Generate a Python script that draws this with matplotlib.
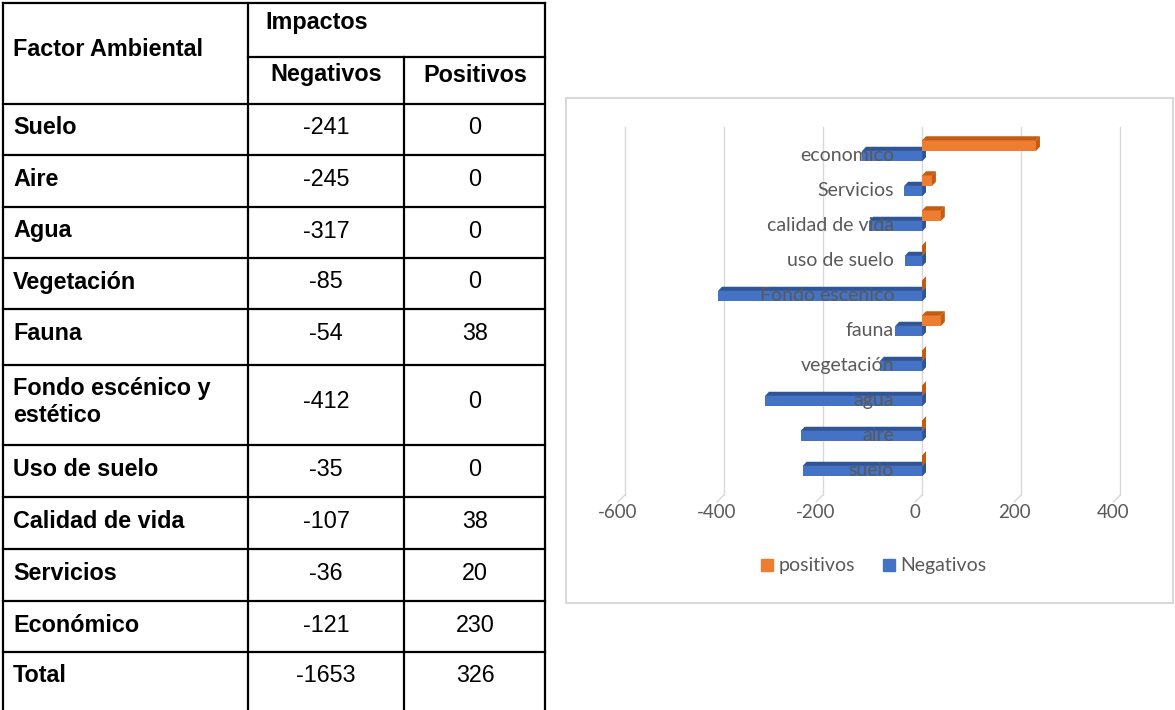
import matplotlib
matplotlib.use("Agg")
import matplotlib.pyplot as plt
from matplotlib.patches import Rectangle, Polygon
from matplotlib.lines import Line2D
from matplotlib.transforms import offset_copy

# ---- data ----
factores = ["Suelo", "Aire", "Agua", "Vegetación", "Fauna",
            "Fondo escénico y\nestético", "Uso de suelo", "Calidad de vida",
            "Servicios", "Económico", "Total"]
negativos = [-241, -245, -317, -85, -54, -412, -35, -107, -36, -121, -1653]
positivos = [0, 0, 0, 0, 38, 0, 0, 38, 20, 230, 326]

cats = ["suelo", "aire", "agua", "vegetación", "fauna", "Fondo escenico",
        "uso de suelo", "calidad de vida", "Servicios", "economico"]
neg_chart = [-241, -245, -317, -85, -54, -412, -35, -107, -36, -121]
pos_chart = [0, 0, 0, 0, 38, 0, 0, 38, 20, 230]
xticks = [-600, -400, -200, 0, 200, 400]

W, H = 1175, 710
fig = plt.figure(figsize=(W / 100, H / 100), dpi=100)
fig.patch.set_facecolor("white")

# ---- table (pixel coords) ----
tab = fig.add_axes([0, 0, 1, 1])
tab.set_xlim(0, W)
tab.set_ylim(H, 0)
tab.axis("off")

col_x = [3, 248, 404, 545]
row_y = [104, 155, 207, 258, 309, 365, 445, 497, 549, 601, 652]
lw = 1.6
tab.plot([col_x[0], col_x[-1]], [3, 3], color="black", lw=lw)
for x in (col_x[0], col_x[1], col_x[3]):
    tab.plot([x, x], [3, H], color="black", lw=lw)
tab.plot([col_x[2], col_x[2]], [57, H], color="black", lw=lw)
tab.plot([col_x[1], col_x[3]], [57, 57], color="black", lw=lw)
for y in row_y:
    tab.plot([col_x[0], col_x[-1]], [y, y], color="black", lw=lw)

tf = "Liberation Sans"
fs = 16.8
tab.text(13, 49, "Factor Ambiental", fontsize=fs, fontweight="bold", family=tf,
         va="center", ha="left")
tab.text(265, 22, "Impactos", fontsize=fs, fontweight="bold", family=tf,
         va="center", ha="left")
tab.text(326, 75, "Negativos", fontsize=fs, fontweight="bold", family=tf,
         va="center", ha="center")
tab.text(475, 75, "Positivos", fontsize=fs, fontweight="bold", family=tf,
         va="center", ha="center")
for i, name in enumerate(factores):
    if "\n" in name:
        y = 402
        tab.text(13, y, name, fontsize=fs, fontweight="bold", family=tf,
                 va="center", ha="left", linespacing=1.2)
    else:
        y = row_y[i] + 24
        tab.text(13, y, name, fontsize=fs, fontweight="bold", family=tf,
                 va="center", ha="left")
    tab.text(326, y, str(negativos[i]), fontsize=fs, family=tf, va="center", ha="center")
    tab.text(475, y, str(positivos[i]), fontsize=fs, family=tf, va="center", ha="center")

# chart frame
tab.add_patch(Rectangle((566, 98), 607, 505, fill=False, edgecolor="#d9d9d9", lw=1.5))

# ---- bar chart ----
px_l, px_r, px_t, px_b = 605, 1140, 117, 502
ax = fig.add_axes([px_l / W, 1 - px_b / H, (px_r - px_l) / W, (px_b - px_t) / H])
ax.set_xlim(-640, 440)
ax.set_ylim(-1, 10)
ax.axis("off")

grid_c = "#d9d9d9"
for t in xticks:
    ax.plot([t, t], [-0.8, 9.7], color=grid_c, lw=1, zorder=0)
    ax.annotate("", xy=(t, -0.8), xytext=(-7, -7), textcoords="offset pixels",
                arrowprops=dict(arrowstyle="-", color=grid_c, lw=1, shrinkA=0, shrinkB=0))

cf = "Lato"
txt_c = "#595959"
lab_tr = offset_copy(ax.transData, fig=fig, x=-7, y=0, units="dots")
for t in xticks:
    ax.text(t, -1.3, str(t), transform=lab_tr, ha="center", va="center",
            fontsize=13.5, color=txt_c, family=cf)

blue, blue_d = "#4472C4", "#2F5597"
orange, orange_d = "#ED7D31", "#C55A11"
h = 0.3
dx, dy = 8, 0.12


def bar3d(v, yc, col, dcol):
    yb, yt = yc - h / 2, yc + h / 2
    x0, x1 = min(0, v), max(0, v)
    ax.add_patch(Rectangle((x0, yb), x1 - x0, h, facecolor=col, edgecolor="none", zorder=2))
    ax.add_patch(Polygon([(x0, yt), (x1, yt), (x1 + dx, yt + dy), (x0 + dx, yt + dy)],
                         closed=True, facecolor=dcol, edgecolor="none", zorder=2))
    ax.add_patch(Polygon([(x1, yb), (x1, yt), (x1 + dx, yt + dy), (x1 + dx, yb + dy)],
                         closed=True, facecolor=dcol, edgecolor="none", zorder=2))


for i in range(len(cats) - 1, -1, -1):
    bar3d(neg_chart[i], i - 0.12, blue, blue_d)
    bar3d(pos_chart[i], i + 0.18, orange, orange_d)

cat_tr = offset_copy(ax.transData, fig=fig, x=-28, y=0, units="dots")
for i, c in enumerate(cats):
    ax.text(0, i - 0.1, c, transform=cat_tr, ha="right", va="center",
            fontsize=14, color=txt_c, family=cf, zorder=5)

handles = [Line2D([], [], marker="s", ls="none", color=orange, markersize=8),
           Line2D([], [], marker="s", ls="none", color=blue, markersize=8)]
fig.legend(handles, ["positivos", "Negativos"], loc="center",
           bbox_to_anchor=(872 / W, 1 - 566 / H), ncol=2, frameon=False,
           prop={"family": cf, "size": 14}, labelcolor=txt_c,
           handletextpad=0.1, columnspacing=1.2, handlelength=1.0)

fig.savefig("out.png", dpi=100, facecolor="white")
